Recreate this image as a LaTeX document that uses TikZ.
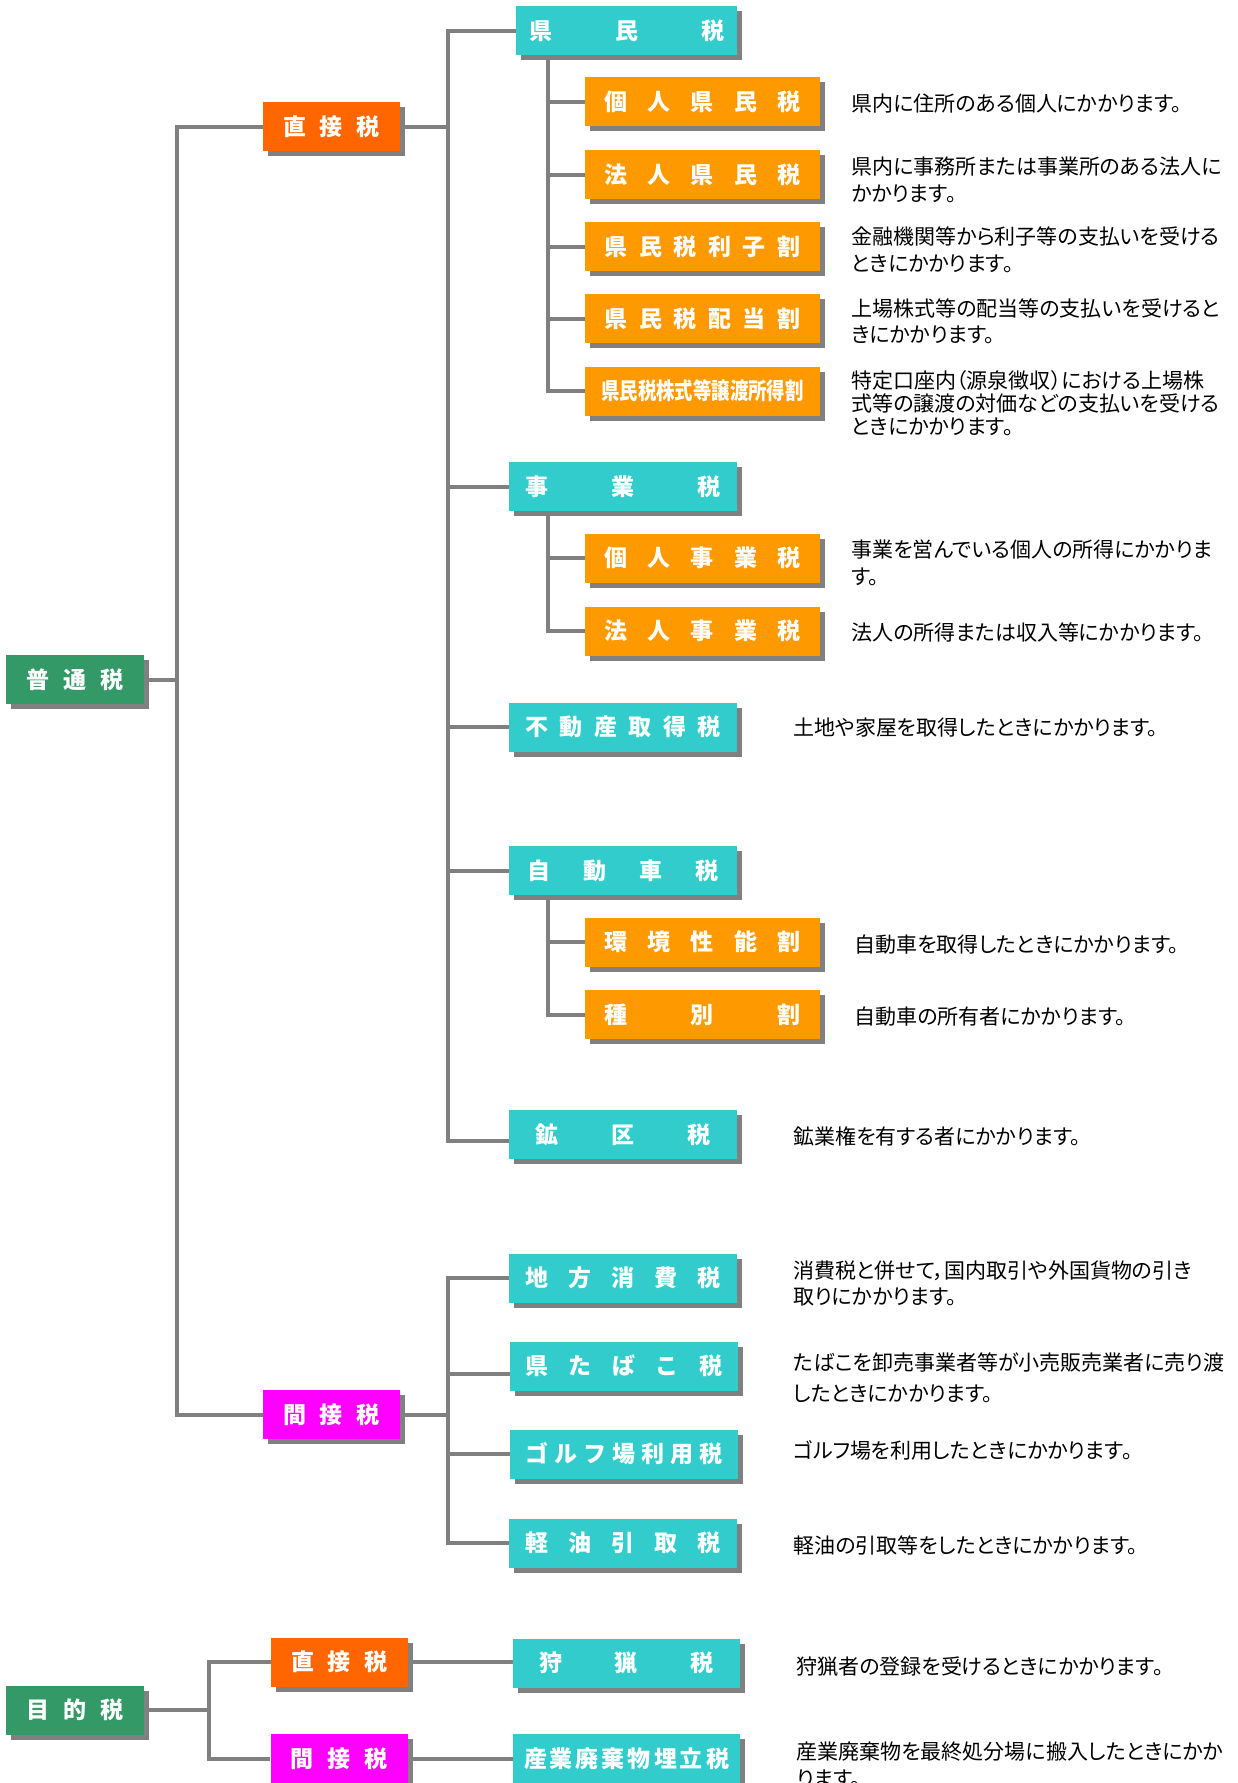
\documentclass[tikz,border=0pt]{standalone}
\usepackage{fontspec}
\usepackage{graphicx}
\setmainfont{Noto Sans CJK JP}
\newfontfamily\descfont{Noto Sans CJK JP}[RawFeature=+palt]
\usetikzlibrary{positioning,shadows,backgrounds}
\definecolor{kindgreen}{HTML}{339966}
\definecolor{directred}{HTML}{FF6600}
\definecolor{indirectpink}{HTML}{FF00FF}
\definecolor{taxcyan}{HTML}{33CCCC}
\definecolor{suborange}{HTML}{FF9900}
\definecolor{shadowgray}{HTML}{808080}
\newcommand\spreadbox[2]{\makebox[#1][s]{\spreadchars#2\relax}}
\def\spreadchars#1#2{#1\ifx\relax#2\else\hfil\expandafter\spreadchars\fi#2}
\tikzset{taxbox/.style={inner sep=0pt, minimum height=49pt, text=white,
    font=\fontsize{23}{23}\selectfont\bfseries,
    drop shadow={shadow xshift=5pt, shadow yshift=-5pt, fill=shadowgray, opacity=1}},
    kindbox/.style={taxbox, fill=kindgreen, minimum width=138pt},
    directbox/.style={taxbox, fill=directred, minimum width=137pt},
    indirectbox/.style={taxbox, fill=indirectpink, minimum width=137pt},
    taxitem/.style={taxbox, fill=taxcyan, minimum width=228pt},
    subitem/.style={taxbox, fill=suborange, minimum width=235pt},
    desc/.style={inner sep=0pt, align=left, font=\descfont\fontsize{21}{26.5}\selectfont},
    link/.style={draw=shadowgray, line width=4pt},
    }
\begin{document}
\begin{tikzpicture}[x=1pt,y=-1pt]
\useasboundingbox (0,0) rectangle (1237,1783);
\clip (0,0) rectangle (1237,1783);
\coordinate (f0) at (177,0);
\coordinate (f1) at (448,0);
\coordinate (f2) at (548,0);
\coordinate (f3) at (209,0);
% 普通税
\node[kindbox] (futsu) at (75,679.5) {\spreadbox{97pt}{普通税}};
\node[directbox] (choku) at (331.5,126.5) {\spreadbox{97pt}{直接税}};
\node[indirectbox] (kan) at (331.5,1414.5) {\spreadbox{97pt}{間接税}};
\node[taxitem, minimum width=221pt] (kenmin) at (626.5,30.5) {\spreadbox{195pt}{県民税}};
\node[subitem] (kojin) at (702.5,101.5) {\spreadbox{196pt}{個人県民税}};
\node[subitem] (hojin) at (702.5,174.5) {\spreadbox{196pt}{法人県民税}};
\node[subitem] (rishi) at (702.5,246.5) {\spreadbox{196pt}{県民税利子割}};
\node[subitem] (haito) at (702.5,318.5) {\spreadbox{196pt}{県民税配当割}};
\node[subitem] (kabu) at (702.5,391) {\scalebox{0.8}[1]{県民税株式等譲渡所得割}};
\node[taxitem] (jigyo) at (623,486.5) {\spreadbox{195pt}{事業税}};
\node[subitem] (kojinj) at (702.5,558) {\spreadbox{196pt}{個人事業税}};
\node[subitem] (hojinj) at (702.5,631) {\spreadbox{196pt}{法人事業税}};
\node[taxitem] (fudosan) at (623,727) {\spreadbox{195pt}{不動産取得税}};
\node[taxitem] (jidosha) at (623,870.5) {\spreadbox{192pt}{自動車税}};
\node[subitem] (kankyo) at (702.5,942) {\spreadbox{196pt}{環境性能割}};
\node[subitem] (shubetsu) at (702.5,1014.5) {\spreadbox{196pt}{種別割}};
\node[taxitem] (kouku) at (623,1134.5) {\spreadbox{175pt}{鉱区税}};
\node[taxitem] (chiho) at (623,1278) {\spreadbox{195pt}{地方消費税}};
\node[taxitem] (tabako) at (624,1366) {\spreadbox{197pt}{県たばこ税}};
\node[taxitem] (golf) at (624,1454) {\spreadbox{197pt}{ゴルフ場利用税}};
\node[taxitem] (keiyu) at (623,1543) {\spreadbox{195pt}{軽油引取税}};
% 目的税
\node[kindbox] (mokuteki) at (75,1710) {\spreadbox{97pt}{目的税}};
\node[directbox] (choku2) at (339.5,1662) {\spreadbox{97pt}{直接税}};
\node[indirectbox] (kan2) at (339,1758.5) {\spreadbox{97pt}{間接税}};
\node[taxitem, minimum width=227pt] (shuryo) at (626.5,1663) {\spreadbox{174pt}{狩猟税}};
\node[taxitem, minimum width=227pt] (sangyo) at (626.5,1758.5) {\spreadbox{205pt}{産業廃棄物埋立税}};
% descriptions
\node[desc, right=31pt of kojin, yshift=-2pt] (kojind) {県内に住所のある個人にかかります。};
\node[desc, right=31pt of hojin, yshift=-5.5pt] (hojind) {県内に事務所または事業所のある法人に\\かかります。};
\node[desc, right=31pt of rishi, yshift=-3.5pt] (rishid) {金融機関等から利子等の支払いを受ける\\ときにかかります。};
\node[desc, right=31pt of haito, yshift=-3pt] (haitod) {上場株式等の配当等の支払いを受けると\\きにかかります。};
\node[desc, right=31pt of kabu, yshift=-12pt, font=\descfont\fontsize{21}{23.3}\selectfont] (kabud)
    {特定口座内（源泉徴収）における上場株\\式等の譲渡の対価などの支払いを受ける\\ときにかかります。};
\node[desc, right=31pt of kojinj, yshift=-5pt] (kojinjd) {事業を営んでいる個人の所得にかかりま\\す。};
\node[desc, right=31pt of hojinj, yshift=-1pt] (hojinjd) {法人の所得または収入等にかかります。};
\node[desc, right=56pt of fudosan, yshift=-1pt] (fudosand) {土地や家屋を取得したときにかかります。};
\node[desc, right=34pt of kankyo, yshift=-3pt] (kankyod) {自動車を取得したときにかかります。};
\node[desc, right=34pt of shubetsu, yshift=-2pt] (shubetsud) {自動車の所有者にかかります。};
\node[desc, right=56pt of kouku, yshift=-2pt] (koukud) {鉱業権を有する者にかかります。};
\node[desc, right=56pt of chiho, yshift=-5.5pt] (chihod) {消費税と併せて，国内取引や外国貨物の引き\\取りにかかります。};
\node[desc, right=55pt of tabako, yshift=-11.5pt] (tabakod) {たばこを卸売事業者等が小売販売業者に売り渡\\[4.5pt]したときにかかります。};
\node[desc, right=55pt of golf, yshift=4pt] (golfd) {ゴルフ場を利用したときにかかります。};
\node[desc, right=56pt of keiyu, yshift=-2pt] (keiyud) {軽油の引取等をしたときにかかります。};
\node[desc, right=56pt of shuryo, yshift=-4pt] (shuryod) {狩猟者の登録を受けるときにかかります。};
\node[desc, right=56pt of sangyo, yshift=-6.5pt] (sangyod) {産業廃棄物を最終処分場に搬入したときにかか\\ります。};
\coordinate (koukuin) at ([yshift=-6pt]kouku.west);
\coordinate (tabakoin) at ([yshift=-8pt]tabako.west);
\begin{scope}[on background layer]
\draw[link] (futsu.east) -- (futsu.east -| f0);
\draw[link] (choku.west) -| (f0 |- kan.west) -- (kan.west);
\draw[link] (choku.east) -- (choku.east -| f1);
\draw[link] (kenmin.west) -| (f1 |- koukuin) -- (koukuin);
\draw[link] (jigyo.west) -- (jigyo.west -| f1);
\draw[link] (fudosan.west) -- (fudosan.west -| f1);
\draw[link] (jidosha.west) -- (jidosha.west -| f1);
\draw[link] (kenmin.south -| f2) |- (kabu.west);
\draw[link] (kojin.west) -- (kojin.west -| f2);
\draw[link] (hojin.west) -- (hojin.west -| f2);
\draw[link] (rishi.west) -- (rishi.west -| f2);
\draw[link] (haito.west) -- (haito.west -| f2);
\draw[link] (jigyo.south -| f2) |- (hojinj.west);
\draw[link] (kojinj.west) -- (kojinj.west -| f2);
\draw[link] (jidosha.south -| f2) |- (shubetsu.west);
\draw[link] (kankyo.west) -- (kankyo.west -| f2);
\draw[link] (kan.east) -- (kan.east -| f1);
\draw[link] (chiho.west) -| (f1 |- keiyu.west) -- (keiyu.west);
\draw[link] (tabakoin) -- (tabakoin -| f1);
\draw[link] (golf.west) -- (golf.west -| f1);
\draw[link] (mokuteki.east) -- (mokuteki.east -| f3);
\draw[link] (choku2.west) -| (f3 |- kan2.west) -- (kan2.west);
\draw[link] (choku2.east) -- (choku2.east -| shuryo.west);
\draw[link] (kan2.east) -- (kan2.east -| sangyo.west);
\end{scope}
\end{tikzpicture}
\end{document}
